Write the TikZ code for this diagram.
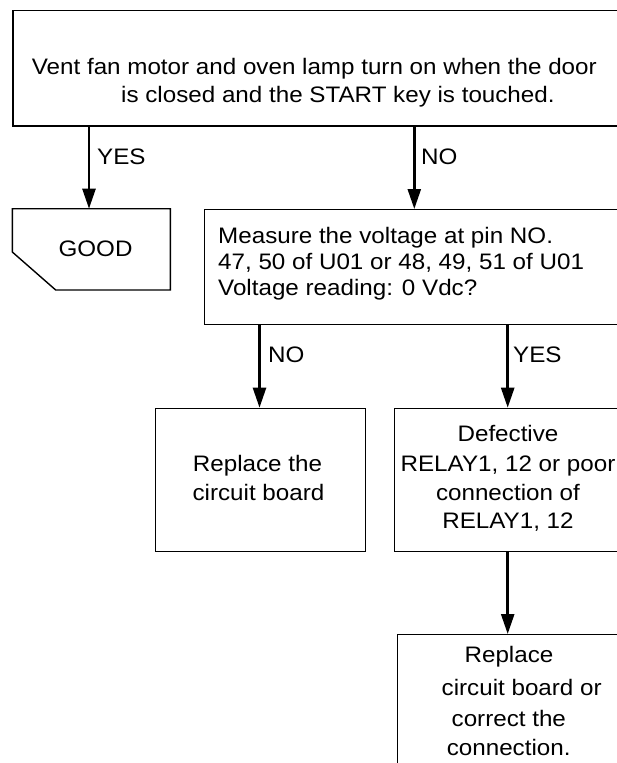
\documentclass[tikz,border=0pt]{standalone}
\usepackage{fontspec}
\setmainfont{Liberation Sans}[FakeStretch=1.08]
\usetikzlibrary{arrows.meta}
\begin{document}
\begin{tikzpicture}[x=1pt,y=-1pt,
  box/.style={draw, line width=1.4pt, rectangle, inner sep=0pt, anchor=north west},
  txt/.style={inner sep=0pt, font=\fontsize{22.4}{26}\selectfont},
  arr/.style={line width=2.5pt, -{Triangle[length=20pt,width=13pt]}}]
\useasboundingbox (0,0) rectangle (617,763);
\clip (0,0) rectangle (617,763);
% boxes
\node[box, minimum width=640pt, minimum height=115.8pt] (top) at (12.3,9.5) {};
\node[box, minimum width=440pt, minimum height=114.5pt] (meas) at (204,209) {};
\node[box, minimum width=210.3pt, minimum height=143.3pt] (repl) at (154.7,407.7) {};
\node[box, minimum width=250pt, minimum height=143.3pt] (defe) at (394,407.7) {};
\node[box, minimum width=250pt, minimum height=200pt] (fin) at (396.7,634) {};
\draw[line width=1.4pt] (12.3,208.7) -- (170.3,208.7) -- (170.3,290) -- (55.7,290) -- (12.3,252) -- cycle;
\coordinate (goodtop) at (89,208.7);
% texts
\node[txt, anchor=base west] (t1) at (31.7,74) {Vent fan motor and oven lamp turn on when the door};
\node[txt, anchor=base west] (t2) at (121,102.3) {is closed and the START key is touched.};
\node[txt, anchor=base] (good) at (95.5,256) {GOOD};
\node[txt, anchor=base west] (m1) at (218,243.5) {Measure the voltage at pin NO.};
\node[txt, anchor=base west] (m2) at (218,269.5) {47, 50 of U01 or 48, 49, 51 of U01};
\node[txt, anchor=base west] (m3) at (218,295.3) {Voltage reading: 0 Vdc?};
\node[txt, anchor=base] (r1) at (257.5,471.7) {Replace the};
\node[txt, anchor=base] (r2) at (258.5,500) {circuit board};
\node[txt, anchor=base] (d1) at (508,441.7) {Defective};
\node[txt, anchor=base] (d2) at (508,471.7) {RELAY1, 12 or poor};
\node[txt, anchor=base] (d3) at (508,500) {connection of};
\node[txt, anchor=base] (d4) at (508,528.3) {RELAY1, 12};
\node[txt, anchor=base] (f1) at (509,662.7) {Replace};
\node[txt, anchor=base] (f2) at (521.7,695) {circuit board or};
\node[txt, anchor=base] (f3) at (508.8,726.7) {correct the};
\node[txt, anchor=base] (f4) at (508.7,755) {connection.};
% labels
\node[txt, anchor=base west] (l1) at (97,164) {YES};
\node[txt, anchor=base west] (l2) at (421,164) {NO};
\node[txt, anchor=base west] (l3) at (268,362.7) {NO};
\node[txt, anchor=base west] (l4) at (513,362.7) {YES};
% arrow x positions
\coordinate (xa) at (414.3,0);
\coordinate (xb) at (259.5,0);
\coordinate (xc) at (507.7,0);
% arrows
\draw[arr] (top.south -| goodtop) -- (goodtop);
\draw[arr] (top.south -| xa) -- (meas.north -| xa);
\draw[arr] (meas.south -| xb) -- (repl.north -| xb);
\draw[arr] (meas.south -| xc) -- (defe.north -| xc);
\draw[arr] (defe.south -| xc) -- (fin.north -| xc);
\end{tikzpicture}
\end{document}
